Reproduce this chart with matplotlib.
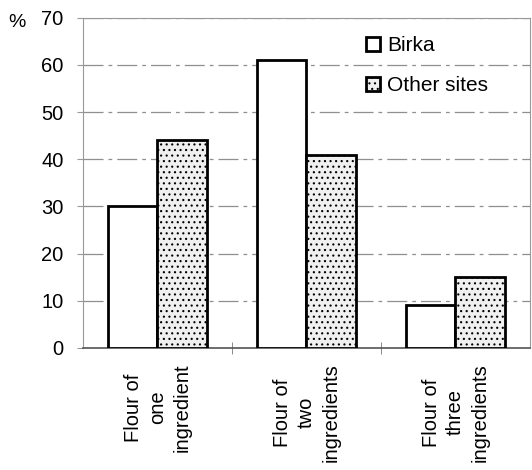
import numpy as np
import matplotlib.pyplot as plt

# Values
categories = ["Flour of\none\ningredient", "Flour of\ntwo\ningredients", "Flour of\nthree\ningredients"]
birka = [30, 61, 9]
other_sites = [44, 41, 15]
yticks = [0, 10, 20, 30, 40, 50, 60, 70]

plt.rcParams['font.family'] = ['Liberation Sans', 'DejaVu Sans']
plt.rcParams['hatch.color'] = '#a8a8a8'
plt.rcParams['hatch.linewidth'] = 0.8

fig = plt.figure(figsize=(5.32, 4.70), dpi=100)
ax = fig.add_axes([0.156, 0.26, 0.84, 0.702])

x = np.arange(len(categories))
w = 0.333

ax.bar(x - w / 2, birka, width=w, facecolor='white', edgecolor='black',
       linewidth=2, label='Birka', zorder=3)
ax.bar(x + w / 2, other_sites, width=w, facecolor='#f0f0f0', edgecolor='black',
       linewidth=2, hatch='...', label='Other sites', zorder=3)

ax.set_xlim(-0.5, 2.5)
ax.set_ylim(0, 70)
ax.set_yticks(yticks)
ax.set_yticklabels([str(v) for v in yticks], fontsize=14.5)
ax.yaxis.grid(True, color='#8f8f8f', linewidth=0.9, linestyle=(0, (16, 4, 3, 4)), zorder=0)

ax.set_xticks(x)
ax.set_xticklabels(categories, rotation=90, fontsize=14.5, ha='center', va='top',
                   multialignment='center', linespacing=1.35)
ax.tick_params(axis='x', length=0, pad=11)
ax.set_xticks([0.5, 1.5], minor=True)
ax.tick_params(axis='x', which='minor', length=8, direction='inout', color='#777777')
ax.tick_params(axis='y', length=4, color='#999999', pad=10)

for side in ['top', 'left', 'right']:
    ax.spines[side].set_color('#999999')
ax.spines['bottom'].set_color('#555555')
ax.spines['bottom'].set_linewidth(1.2)

fig.text(0.015, 0.953, '%', fontsize=14, ha='left', va='center')

ax.legend(loc='upper left', bbox_to_anchor=(0.615, 0.97), frameon=False, fontsize=15,
          handlelength=0.65, handleheight=0.65, handletextpad=0.35, labelspacing=1.0,
          borderaxespad=0)

fig.savefig('out.png', dpi=100)
